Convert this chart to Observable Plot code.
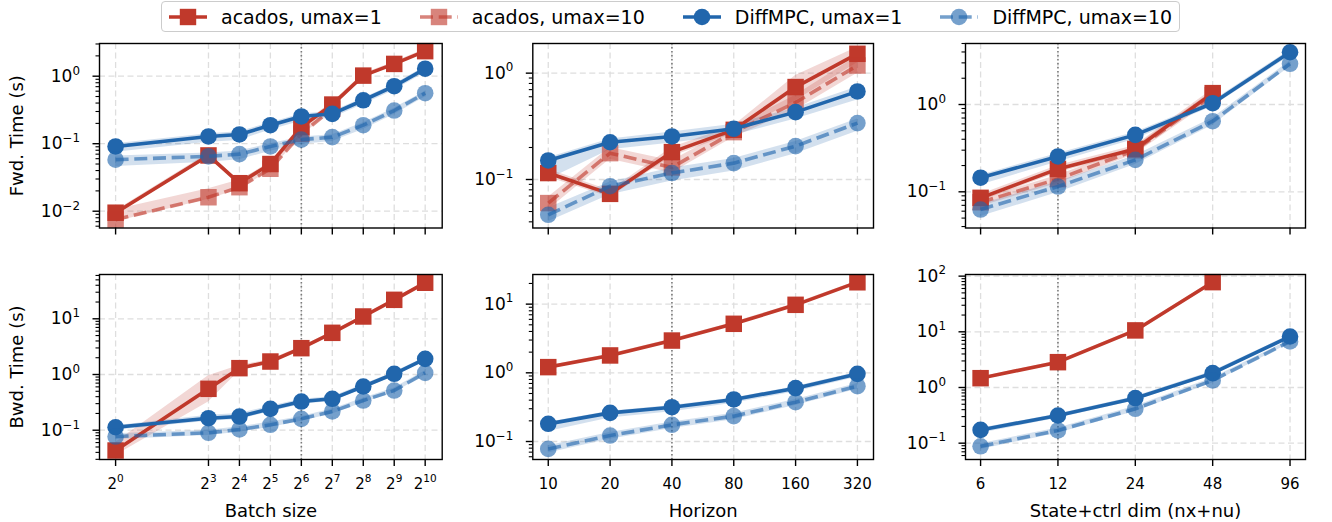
<!DOCTYPE html>
<html><head><meta charset="utf-8">
<script src="https://cdn.jsdelivr.net/npm/d3@7"></script>
<script src="https://cdn.jsdelivr.net/npm/@observablehq/plot@0.6"></script>
<style>
body{margin:0;background:#fff;}
#wrap{position:relative;width:1332px;height:522px;overflow:hidden;font-family:"DejaVu Sans",sans-serif;color:#000;background:#fff;}
.panel{position:absolute;}
#legend{position:absolute;left:161px;top:1px;height:31px;box-sizing:border-box;border:1px solid #cccccc;border-radius:4px;padding:0 7px;display:flex;align-items:center;gap:38px;background:rgba(255,255,255,0.8);font-size:19px;white-space:nowrap;z-index:2;}
.item{display:flex;align-items:center;}
.item svg{margin-right:14px;overflow:visible;}
</style></head>
<body><div id="wrap"><div id="legend"></div></div>
<script>
// ---------- categories / tick labels ----------
const batchSizes = [1, 8, 16, 32, 64, 128, 256, 512, 1024];
const batchTickLabels = ["2^0","2^3","2^4","2^5","2^6","2^7","2^8","2^9","2^10"];
const horizons = [10, 20, 40, 80, 160, 320];
const horizonTickLabels = ["10","20","40","80","160","320"];
const dims = [6, 12, 24, 48, 96];
const dimTickLabels = ["6","12","24","48","96"];
const decadeTicks = [0.01, 0.1, 1, 10, 100];
const decadeLabels = ["10^\u22122","10^\u22121","10^0","10^1","10^2"];
const seriesNames = ["acados, umax=1","acados, umax=10","DiffMPC, umax=1","DiffMPC, umax=10"];

// ---------- Forward time vs batch size ----------
const fwdBatch_acados1    = [0.0095, 0.067, 0.026, 0.050, 0.176, 0.38, 1.02, 1.52, 2.35];
const fwdBatch_acados1_lo = [0.0088, 0.062, 0.024, 0.046, 0.160, 0.35, 0.95, 1.42, 2.20];
const fwdBatch_acados1_hi = [0.0102, 0.072, 0.028, 0.054, 0.190, 0.41, 1.09, 1.62, 2.50];
const fwdBatch_acados10    = [0.0075, 0.0161, 0.0227, 0.0425, 0.14, 0.33];
const fwdBatch_acados10_lo = [0.0070, 0.0150, 0.0210, 0.0400, 0.13, 0.31];
const fwdBatch_acados10_hi = [0.0105, 0.0215, 0.0290, 0.0500, 0.17, 0.36];
const fwdBatch_diff1    = [0.091, 0.128, 0.137, 0.188, 0.253, 0.277, 0.44, 0.71, 1.29];
const fwdBatch_diff1_lo = [0.075, 0.105, 0.112, 0.160, 0.215, 0.240, 0.38, 0.62, 1.12];
const fwdBatch_diff1_hi = [0.100, 0.140, 0.150, 0.205, 0.275, 0.300, 0.47, 0.76, 1.38];
const fwdBatch_diff10    = [0.058, 0.065, 0.070, 0.091, 0.115, 0.125, 0.188, 0.31, 0.56];
const fwdBatch_diff10_lo = [0.046, 0.053, 0.058, 0.077, 0.098, 0.108, 0.163, 0.27, 0.49];
const fwdBatch_diff10_hi = [0.066, 0.073, 0.078, 0.100, 0.126, 0.136, 0.205, 0.335, 0.60];

// ---------- Forward time vs horizon ----------
const fwdHor_acados1    = [0.115, 0.0733, 0.181, 0.293, 0.74, 1.52];
const fwdHor_acados1_lo = [0.105, 0.068, 0.165, 0.270, 0.55, 1.25];
const fwdHor_acados1_hi = [0.125, 0.079, 0.200, 0.320, 0.95, 1.75];
const fwdHor_acados10    = [0.060, 0.177, 0.130, 0.279, 0.53, 1.18];
const fwdHor_acados10_lo = [0.052, 0.155, 0.115, 0.250, 0.45, 1.00];
const fwdHor_acados10_hi = [0.068, 0.200, 0.150, 0.310, 0.62, 1.45];
const fwdHor_diff1    = [0.151, 0.224, 0.254, 0.300, 0.43, 0.673];
const fwdHor_diff1_lo = [0.100, 0.190, 0.220, 0.260, 0.37, 0.560];
const fwdHor_diff1_hi = [0.160, 0.240, 0.280, 0.330, 0.47, 0.740];
const fwdHor_diff10    = [0.0466, 0.0865, 0.115, 0.1425, 0.206, 0.339];
const fwdHor_diff10_lo = [0.040, 0.072, 0.097, 0.120, 0.175, 0.285];
const fwdHor_diff10_hi = [0.054, 0.095, 0.128, 0.158, 0.228, 0.370];

// ---------- Forward time vs state+ctrl dim ----------
const fwdDim_acados1    = [0.0853, 0.183, 0.31, 1.35];
const fwdDim_acados1_lo = [0.078, 0.165, 0.285, 1.20];
const fwdDim_acados1_hi = [0.093, 0.200, 0.340, 1.50];
const fwdDim_acados10    = [0.076, 0.14, 0.30, 1.28];
const fwdDim_acados10_lo = [0.068, 0.125, 0.27, 1.12];
const fwdDim_acados10_hi = [0.083, 0.155, 0.33, 1.42];
const fwdDim_diff1    = [0.145, 0.254, 0.449, 1.035, 3.97];
const fwdDim_diff1_lo = [0.120, 0.220, 0.400, 0.950, 3.60];
const fwdDim_diff1_hi = [0.155, 0.275, 0.480, 1.100, 4.20];
const fwdDim_diff10    = [0.0627, 0.115, 0.232, 0.644, 2.93];
const fwdDim_diff10_lo = [0.052, 0.098, 0.205, 0.580, 2.70];
const fwdDim_diff10_hi = [0.072, 0.130, 0.260, 0.700, 3.15];

// ---------- Backward time vs batch size ----------
const bwdBatch_acados1    = [0.0432, 0.553, 1.30, 1.71, 2.97, 5.6, 11.0, 21.9, 44.3];
const bwdBatch_acados1_lo = [0.035, 0.32, 1.15, 1.60, 2.80, 5.3, 10.4, 20.8, 42.0];
const bwdBatch_acados1_hi = [0.060, 0.95, 1.45, 1.85, 3.15, 5.9, 11.6, 23.0, 46.5];
const bwdBatch_diff1    = [0.113, 0.164, 0.176, 0.242, 0.327, 0.366, 0.609, 1.03, 1.91];
const bwdBatch_diff1_lo = [0.100, 0.145, 0.155, 0.215, 0.290, 0.330, 0.550, 0.93, 1.75];
const bwdBatch_diff1_hi = [0.120, 0.185, 0.200, 0.270, 0.360, 0.400, 0.660, 1.10, 2.05];
const bwdBatch_diff10    = [0.077, 0.0898, 0.103, 0.125, 0.160, 0.217, 0.341, 0.516, 1.07];
const bwdBatch_diff10_lo = [0.068, 0.080, 0.092, 0.112, 0.145, 0.195, 0.310, 0.470, 0.98];
const bwdBatch_diff10_hi = [0.086, 0.100, 0.115, 0.140, 0.177, 0.240, 0.375, 0.570, 1.17];

// ---------- Backward time vs horizon ----------
const bwdHor_acados1    = [1.21, 1.79, 2.95, 5.17, 9.77, 20.8];
const bwdHor_acados1_lo = [1.15, 1.70, 2.80, 4.90, 9.30, 19.8];
const bwdHor_acados1_hi = [1.27, 1.88, 3.10, 5.45, 10.3, 21.8];
const bwdHor_diff1    = [0.181, 0.261, 0.316, 0.409, 0.598, 0.966];
const bwdHor_diff1_lo = [0.140, 0.220, 0.270, 0.360, 0.530, 0.860];
const bwdHor_diff1_hi = [0.190, 0.275, 0.335, 0.430, 0.630, 1.020];
const bwdHor_diff10    = [0.078, 0.122, 0.175, 0.234, 0.374, 0.638];
const bwdHor_diff10_lo = [0.068, 0.108, 0.155, 0.208, 0.335, 0.575];
const bwdHor_diff10_hi = [0.087, 0.135, 0.193, 0.258, 0.410, 0.700];

// ---------- Backward time vs state+ctrl dim ----------
const bwdDim_acados1    = [1.47, 2.85, 10.6, 78];
const bwdDim_acados1_lo = [1.40, 2.70, 10.0, 74];
const bwdDim_acados1_hi = [1.55, 3.00, 11.2, 82];
const bwdDim_diff1    = [0.173, 0.314, 0.643, 1.81, 8.24];
const bwdDim_diff1_lo = [0.150, 0.280, 0.580, 1.65, 7.60];
const bwdDim_diff1_hi = [0.185, 0.335, 0.690, 1.95, 8.80];
const bwdDim_diff10    = [0.088, 0.169, 0.414, 1.34, 6.7];
const bwdDim_diff10_lo = [0.077, 0.150, 0.370, 1.20, 6.2];
const bwdDim_diff10_hi = [0.098, 0.188, 0.460, 1.48, 7.2];

// ---------- styles ----------
const RED = "#c0392b", BLUE = "#2166ac";
const styles = {
  acados1:  {color: RED,  op: 1,    dash: null,       symbol: "square", r: 9.3},
  acados10: {color: RED,  op: 0.62, dash: "13,5.7",   symbol: "square", r: 9.3},
  diff1:    {color: BLUE, op: 1,    dash: null,       symbol: "circle", r: 8.3},
  diff10:   {color: BLUE, op: 0.62, dash: "13,5.7",   symbol: "circle", r: 8.3}
};
const minorMult = [2,3,4,5,6,7,8,9];

function rows(xs, y, lo, hi) {
  return y.map((v, i) => ({x: xs[i], y: v, lo: lo[i], hi: hi[i]}));
}

function supify(svg) {
  d3.select(svg).selectAll("text").each(function() {
    const s = this.textContent;
    const i = s.indexOf("^");
    if (i < 0) return;
    const t = d3.select(this);
    t.text(s.slice(0, i));
    t.append("tspan").attr("font-size", "70%").attr("dy", "-0.6em").text(s.slice(i + 1));
  });
}

const wrap = document.getElementById("wrap");

function panel(cfg) {
  const [d0, d1] = cfg.yDomain;
  const yMajor = decadeTicks.filter(d => d >= d0 && d <= d1);
  const yMinor = [0.001, ...decadeTicks].flatMap(d => minorMult.map(m => +(m * d).toPrecision(3))).filter(v => v >= d0 && v <= d1);
  const marks = [
    Plot.ruleX(cfg.xTicks, {stroke: "#dedede", strokeWidth: 1.3, strokeDasharray: "6,3.5"}),
    Plot.ruleY(yMajor, {stroke: "#dedede", strokeWidth: 1.3, strokeDasharray: "6,3.5"}),
    Plot.ruleX([cfg.defaultX], {stroke: "#7a7a7a", strokeWidth: 1.6, strokeDasharray: "1.6,2.4"})
  ];
  for (const s of cfg.series) {
    const st = styles[s.key];
    marks.push(Plot.areaY(s.data, {x: "x", y1: "lo", y2: "hi", fill: st.color, fillOpacity: 0.2, curve: "linear"}));
  }
  for (const s of cfg.series) {
    const st = styles[s.key];
    marks.push(Plot.line(s.data, {x: "x", y: "y", stroke: st.color, strokeOpacity: st.op, strokeWidth: 3.6,
      strokeDasharray: st.dash, strokeLinejoin: "round", strokeLinecap: st.dash ? "butt" : "square"}));
    marks.push(Plot.dot(s.data, {x: "x", y: "y", symbol: st.symbol, r: st.r, fill: st.color, fillOpacity: st.op, stroke: "none"}));
  }
  marks.push(Plot.frame({stroke: "#000", strokeWidth: 1.4}));
  marks.push(Plot.axisY(yMinor, {tickSize: 3.5, strokeWidth: 1.1, tickFormat: () => "", label: null}));
  marks.push(Plot.axisY(yMajor, {tickSize: 6.5, strokeWidth: 1.4, tickPadding: 13, fontSize: 17,
    tickFormat: d => decadeLabels[decadeTicks.indexOf(d)], label: null}));
  marks.push(Plot.axisX(cfg.xTicks, {tickSize: 7, strokeWidth: 1.4, tickFormat: () => "", label: null}));
  if (cfg.showX) {
    marks.push(Plot.text(cfg.xTicks, {x: d => d, text: (d, i) => cfg.xTickLabels[i], frameAnchor: "bottom",
      dy: 18.5, lineAnchor: "top", textAnchor: "middle", fontSize: 15}));
  }
  if (cfg.yLabel) marks.push(Plot.text([cfg.yLabel], {frameAnchor: "left", dx: -82.3, rotate: -90, fontSize: 18, textAnchor: "middle", lineAnchor: "middle"}));
  if (cfg.xLabel) marks.push(Plot.text([cfg.xLabel], {frameAnchor: "bottom", dy: 52, fontSize: 18, textAnchor: "middle", lineAnchor: "middle"}));

  const svg = Plot.plot({
    width: cfg.width, height: cfg.height,
    marginLeft: cfg.ml, marginRight: cfg.mr, marginTop: cfg.mt, marginBottom: cfg.mb,
    x: {type: "log", base: cfg.base || 10, domain: cfg.xDomain, label: null},
    y: {type: "log", domain: cfg.yDomain, label: null},
    style: {fontFamily: "DejaVu Sans", fontSize: "15px", background: "transparent", overflow: "visible", color: "#000"},
    marks
  });
  supify(svg);
  const div = document.createElement("div");
  div.className = "panel";
  div.style.left = cfg.left + "px";
  div.style.top = cfg.top + "px";
  div.appendChild(svg);
  wrap.appendChild(div);
}

const cols = [
  {left: 0,   width: 452, ml: 99,   mr: 10.3, xTicks: batchSizes, xTickLabels: batchTickLabels, xDomain: [2 ** -0.52, 2 ** 10.55], base: 2, defaultX: 64, xLabel: "Batch size"},
  {left: 452, width: 432, ml: 80.3, mr: 11,   xTicks: horizons, xTickLabels: horizonTickLabels, xDomain: [10 * 2 ** -0.25, 320 * 2 ** 0.26], defaultX: 40, xLabel: "Horizon"},
  {left: 884, width: 448, ml: 81,   mr: 27,   xTicks: dims, xTickLabels: dimTickLabels, xDomain: [6 * 2 ** -0.195, 96 * 2 ** 0.2], defaultX: 12, xLabel: "State+ctrl dim (nx+nu)"}
];
const topRow = {top: 33, height: 217, mt: 10, mb: 22.5, showX: false};
const botRow = {top: 250, height: 272, mt: 24, mb: 63, showX: true};

panel({...cols[0], ...topRow, yDomain: [0.00564, 3.05], yLabel: "Fwd. Time (s)", xLabel: null, series: [
  {key: "acados1", data: rows(batchSizes, fwdBatch_acados1, fwdBatch_acados1_lo, fwdBatch_acados1_hi)},
  {key: "acados10", data: rows(batchSizes, fwdBatch_acados10, fwdBatch_acados10_lo, fwdBatch_acados10_hi)},
  {key: "diff1", data: rows(batchSizes, fwdBatch_diff1, fwdBatch_diff1_lo, fwdBatch_diff1_hi)},
  {key: "diff10", data: rows(batchSizes, fwdBatch_diff10, fwdBatch_diff10_lo, fwdBatch_diff10_hi)}
]});
panel({...cols[1], ...topRow, yDomain: [0.035, 1.9], xLabel: null, series: [
  {key: "acados1", data: rows(horizons, fwdHor_acados1, fwdHor_acados1_lo, fwdHor_acados1_hi)},
  {key: "acados10", data: rows(horizons, fwdHor_acados10, fwdHor_acados10_lo, fwdHor_acados10_hi)},
  {key: "diff1", data: rows(horizons, fwdHor_diff1, fwdHor_diff1_lo, fwdHor_diff1_hi)},
  {key: "diff10", data: rows(horizons, fwdHor_diff10, fwdHor_diff10_lo, fwdHor_diff10_hi)}
]});
panel({...cols[2], ...topRow, yDomain: [0.0385, 5.0], xLabel: null, series: [
  {key: "acados1", data: rows(dims, fwdDim_acados1, fwdDim_acados1_lo, fwdDim_acados1_hi)},
  {key: "acados10", data: rows(dims, fwdDim_acados10, fwdDim_acados10_lo, fwdDim_acados10_hi)},
  {key: "diff1", data: rows(dims, fwdDim_diff1, fwdDim_diff1_lo, fwdDim_diff1_hi)},
  {key: "diff10", data: rows(dims, fwdDim_diff10, fwdDim_diff10_lo, fwdDim_diff10_hi)}
]});
panel({...cols[0], ...botRow, yDomain: [0.0298, 62.4], yLabel: "Bwd. Time (s)", series: [
  {key: "acados1", data: rows(batchSizes, bwdBatch_acados1, bwdBatch_acados1_lo, bwdBatch_acados1_hi)},
  {key: "diff1", data: rows(batchSizes, bwdBatch_diff1, bwdBatch_diff1_lo, bwdBatch_diff1_hi)},
  {key: "diff10", data: rows(batchSizes, bwdBatch_diff10, bwdBatch_diff10_lo, bwdBatch_diff10_hi)}
]});
panel({...cols[1], ...botRow, yDomain: [0.0547, 27], series: [
  {key: "acados1", data: rows(horizons, bwdHor_acados1, bwdHor_acados1_lo, bwdHor_acados1_hi)},
  {key: "diff1", data: rows(horizons, bwdHor_diff1, bwdHor_diff1_lo, bwdHor_diff1_hi)},
  {key: "diff10", data: rows(horizons, bwdHor_diff10, bwdHor_diff10_lo, bwdHor_diff10_hi)}
]});
panel({...cols[2], ...botRow, yDomain: [0.0509, 107], series: [
  {key: "acados1", data: rows(dims, bwdDim_acados1, bwdDim_acados1_lo, bwdDim_acados1_hi)},
  {key: "diff1", data: rows(dims, bwdDim_diff1, bwdDim_diff1_lo, bwdDim_diff1_hi)},
  {key: "diff10", data: rows(dims, bwdDim_diff10, bwdDim_diff10_lo, bwdDim_diff10_hi)}
]});

// ---------- legend ----------
const legend = document.getElementById("legend");
const keys = ["acados1", "acados10", "diff1", "diff10"];
keys.forEach((k, i) => {
  const st = styles[k];
  const item = document.createElement("div");
  item.className = "item";
  const ns = "http://www.w3.org/2000/svg";
  const sw = document.createElementNS(ns, "svg");
  sw.setAttribute("width", 38); sw.setAttribute("height", 20);
  const ln = document.createElementNS(ns, "line");
  ln.setAttribute("x1", 0); ln.setAttribute("x2", 38); ln.setAttribute("y1", 10); ln.setAttribute("y2", 10);
  ln.setAttribute("stroke", st.color); ln.setAttribute("stroke-width", 3.6); ln.setAttribute("stroke-opacity", st.op);
  if (st.dash) ln.setAttribute("stroke-dasharray", st.dash);
  sw.appendChild(ln);
  let mk;
  if (st.symbol === "square") {
    mk = document.createElementNS(ns, "rect");
    mk.setAttribute("x", 19 - 8.2); mk.setAttribute("y", 10 - 8.2); mk.setAttribute("width", 16.4); mk.setAttribute("height", 16.4);
  } else {
    mk = document.createElementNS(ns, "circle");
    mk.setAttribute("cx", 19); mk.setAttribute("cy", 10); mk.setAttribute("r", 8.3);
  }
  mk.setAttribute("fill", st.color); mk.setAttribute("fill-opacity", st.op);
  sw.appendChild(mk);
  item.appendChild(sw);
  const tx = document.createElement("span");
  tx.textContent = seriesNames[i];
  item.appendChild(tx);
  legend.appendChild(item);
});
</script>
</body></html>
